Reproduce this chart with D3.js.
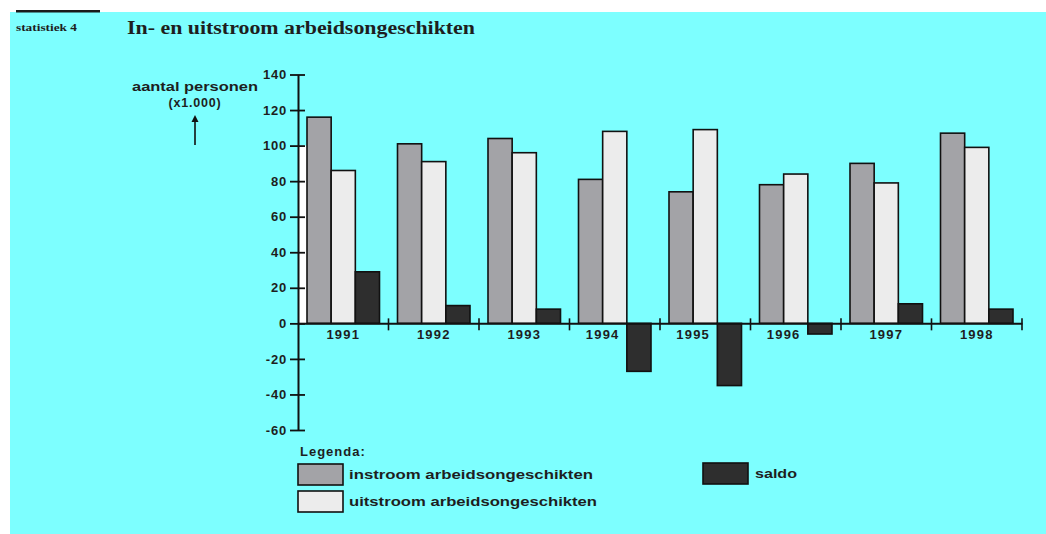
<!DOCTYPE html>
<html>
<head>
<meta charset="utf-8">
<script src="https://cdn.jsdelivr.net/npm/d3@7"></script>
<style>
  html, body { margin: 0; padding: 0; background: #ffffff; }
  svg { display: block; }
  text { font-family: "Liberation Sans", Arial, sans-serif; font-weight: bold; fill: #1e1e1e; }
</style>
</head>
<body>
<svg id="chart" width="1046" height="534"></svg>
<script>
const years = ["1991", "1992", "1993", "1994", "1995", "1996", "1997", "1998"];
const instroom = [116, 101, 104, 81, 74, 78, 90, 107];
const uitstroom = [86, 91, 96, 108, 109, 84, 79, 99];
const saldo = [29, 10, 8, -27, -35, -6, 11, 8];
const yTicks = [140, 120, 100, 80, 60, 40, 20, 0, -20, -40, -60];
const seriesNames = ["instroom arbeidsongeschikten", "uitstroom arbeidsongeschikten", "saldo"];
const seriesKeys = ["instroom", "uitstroom", "saldo"];
const seriesColors = ["#a3a3a7", "#ececec", "#2e2e2e"];

const svg = d3.select("#chart");

// background
svg.append("rect").attr("x", 10).attr("y", 12).attr("width", 1036).attr("height", 522).attr("fill", "#7dffff");
svg.append("rect").attr("x", 16).attr("y", 10).attr("width", 84).attr("height", 2.5).attr("fill", "#1a1a1a");

// header
svg.append("text").attr("x", 16).attr("y", 31)
  .attr("font-size", 10).attr("textLength", 61).attr("lengthAdjust", "spacingAndGlyphs")
  .style("font-family", "'Liberation Serif', serif").text("statistiek 4");
svg.append("text").attr("x", 127).attr("y", 34)
  .attr("font-size", 18.5).attr("textLength", 348).attr("lengthAdjust", "spacingAndGlyphs")
  .style("font-family", "'Liberation Serif', serif").text("In- en uitstroom arbeidsongeschikten");

// scales
const x = d3.scaleBand().domain(years).range([298, 1022]).paddingInner(0).paddingOuter(0);
const xs = d3.scaleBand().domain(seriesKeys).range([9, x.bandwidth() - 9]).padding(0);
const y = d3.scaleLinear().domain([-60, 140]).range([430, 74.5]);

const data = years.map((yr, i) => ({ year: yr, instroom: instroom[i], uitstroom: uitstroom[i], saldo: saldo[i] }));

// white sliver artifact next to axis
svg.append("rect").attr("x", 299).attr("y", y(100)).attr("width", x(years[0]) + xs("instroom") - 299)
  .attr("height", y(0) - y(100)).attr("fill", "#ffffff");

// bars
const g = svg.append("g");
data.forEach(d => {
  seriesKeys.forEach((k, j) => {
    const v = d[k];
    g.append("rect")
      .attr("x", x(d.year) + xs(k))
      .attr("y", y(Math.max(0, v)))
      .attr("width", xs.bandwidth())
      .attr("height", Math.abs(y(v) - y(0)))
      .attr("fill", seriesColors[j])
      .attr("stroke", "#111")
      .attr("stroke-width", 1.6);
  });
});

// y axis
const fmt = d => (d < 0 ? "-" + Math.abs(d) : String(d));
const yAxis = d3.axisLeft(y).tickValues(yTicks).tickSize(0).tickPadding(11).tickFormat(fmt);
const ya = svg.append("g").attr("transform", "translate(298,0)").call(yAxis);
ya.select(".domain").attr("stroke", "#111").attr("stroke-width", 2);
ya.selectAll(".tick line").remove();
ya.selectAll(".tick").append("line").attr("x1", -8).attr("x2", 7).attr("stroke", "#111").attr("stroke-width", 1.8);
ya.selectAll(".tick text").attr("font-size", 13).attr("fill", "#1e1e1e")
  .style("font-family", "'Liberation Sans', Arial, sans-serif").style("font-weight", "bold")
  .attr("letter-spacing", 0.8);

// x axis
const xAxis = d3.axisBottom(x).tickSize(0).tickPadding(6);
const xa = svg.append("g").attr("transform", `translate(0,${y(0)})`).call(xAxis);
xa.select(".domain").attr("stroke", "#111").attr("stroke-width", 2);
xa.selectAll(".tick text").attr("font-size", 13).attr("fill", "#1e1e1e")
  .style("font-family", "'Liberation Sans', Arial, sans-serif").style("font-weight", "bold")
  .attr("letter-spacing", 1.2)
  .attr("dx", (d, i) => saldo[i] < 0 ? (xs("uitstroom") - x.bandwidth() / 2) : 0);
years.forEach((yr, i) => {
  const bx = x(yr) + x.bandwidth();
  svg.append("line").attr("x1", bx).attr("x2", bx).attr("y1", y(0) - 5).attr("y2", y(0) + 7)
    .attr("stroke", "#111").attr("stroke-width", 1.6);
});

// y title
svg.append("text").attr("x", 195).attr("y", 91).attr("text-anchor", "middle").attr("font-size", 12.5)
  .attr("textLength", 126).attr("lengthAdjust", "spacingAndGlyphs").text("aantal personen");
svg.append("text").attr("x", 195).attr("y", 107).attr("text-anchor", "middle").attr("font-size", 12.5)
  .attr("letter-spacing", 0.8).text("(x1.000)");
svg.append("line").attr("x1", 195).attr("x2", 195).attr("y1", 119).attr("y2", 145).attr("stroke", "#111").attr("stroke-width", 1.6);
svg.append("path").attr("d", "M195,115 L191.5,122 L198.5,122 Z").attr("fill", "#111");

// legend
svg.append("text").attr("x", 300).attr("y", 456).attr("font-size", 13).attr("letter-spacing", 1).text("Legenda:");
const legendPos = [
  { sx: 298, sy: 464, tx: 349, tw: 244 },
  { sx: 298, sy: 491, tx: 349, tw: 248 },
  { sx: 703, sy: 463, tx: 755, tw: 42 }
];
seriesNames.forEach((name, i) => {
  const p = legendPos[i];
  svg.append("rect").attr("x", p.sx).attr("y", p.sy).attr("width", 45).attr("height", 21)
    .attr("fill", seriesColors[i]).attr("stroke", "#111").attr("stroke-width", 1.6);
  svg.append("text").attr("x", p.tx).attr("y", p.sy + 15).attr("font-size", 13)
    .attr("textLength", p.tw).attr("lengthAdjust", "spacingAndGlyphs").text(name);
});
</script>
</body>
</html>
